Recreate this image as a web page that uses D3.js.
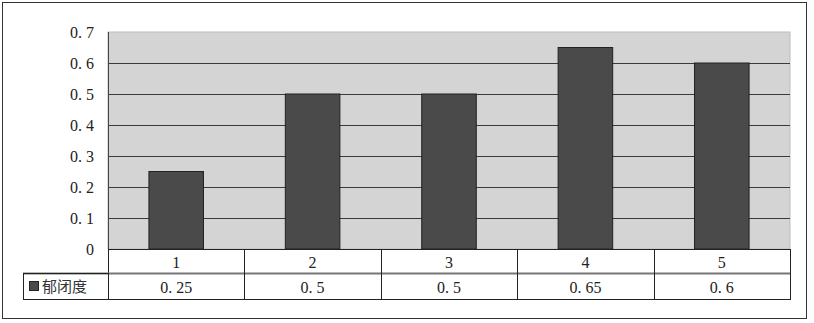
<!DOCTYPE html>
<html>
<head>
<meta charset="utf-8">
<script src="https://cdn.jsdelivr.net/npm/d3@7"></script>
<style>
  body { margin: 0; background: #fff; }
</style>
</head>
<body>
<div id="chart"></div>
<script>
// data
var categories = ["1", "2", "3", "4", "5"];
var values = [0.25, 0.5, 0.5, 0.65, 0.6];
var valueLabels = ["0.25", "0.5", "0.5", "0.65", "0.6"];
var yTicks = [0, 0.1, 0.2, 0.3, 0.4, 0.5, 0.6, 0.7];
var seriesName = "郁闭度";

const W = 814, H = 323;
const plot = { left: 108, right: 790, top: 32, bottom: 249 };
const rowH = [24, 26];
const SERIF = "'Liberation Serif', 'DejaVu Serif', 'Times New Roman', serif";

const svg = d3.select("#chart")
    .append("svg")
    .attr("width", W)
    .attr("height", H);

// numbers drawn like the original: wider gap after the decimal point
function numText(sel, s) {
    const parts = s.split(".");
    sel.text(null);
    if (parts.length === 1) { sel.text(s); return; }
    sel.append("tspan").text(parts[0] + ".");
    sel.append("tspan").attr("dx", 4).text(parts[1]);
}

// outer frame
svg.append("rect")
    .attr("x", 2.5).attr("y", 2.5)
    .attr("width", 804).attr("height", 316)
    .attr("fill", "#fff")
    .attr("stroke", "#333")
    .attr("stroke-width", 1);

const x = d3.scaleBand()
    .domain(categories)
    .range([plot.left, plot.right])
    .paddingInner(0)
    .paddingOuter(0);
const y = d3.scaleLinear()
    .domain([0, 0.7])
    .range([plot.bottom, plot.top]);

// plot background
svg.append("rect")
    .attr("x", plot.left).attr("y", plot.top)
    .attr("width", plot.right - plot.left)
    .attr("height", plot.bottom - plot.top)
    .attr("fill", "#d4d4d4")
    .attr("stroke", "#bdbdbd");

// gridlines
svg.append("g")
    .selectAll("line")
    .data(yTicks.filter(d => d > 0 && d < 0.7))
    .join("line")
    .attr("x1", plot.left).attr("x2", plot.right)
    .attr("y1", d => Math.round(y(d)) + 0.5)
    .attr("y2", d => Math.round(y(d)) + 0.5)
    .attr("stroke", "#3a3a3a");

// left axis line
svg.append("line")
    .attr("x1", plot.left + 0.5).attr("x2", plot.left + 0.5)
    .attr("y1", plot.top).attr("y2", plot.bottom)
    .attr("stroke", "#444");

// bars
const bw = x.bandwidth() * 0.4;
svg.append("g")
    .selectAll("rect")
    .data(values)
    .join("rect")
    .attr("x", (d, i) => x(categories[i]) + (x.bandwidth() - bw) / 2)
    .attr("y", d => y(d))
    .attr("width", bw)
    .attr("height", d => y(0) - y(d))
    .attr("fill", "#4a4a4a")
    .attr("stroke", "#222")
    .attr("stroke-width", 1);

// y axis labels
svg.append("g")
    .selectAll("text")
    .data(yTicks)
    .join("text")
    .attr("x", 94)
    .attr("y", d => y(d))
    .attr("dy", "0.35em")
    .attr("text-anchor", "end")
    .attr("font-family", SERIF)
    .attr("font-size", 16)
    .attr("fill", "#222")
    .each(function (d) { numText(d3.select(this), d === 0 ? "0" : d3.format(".1f")(d)); });

// data table
const t0 = plot.bottom, t1 = t0 + rowH[0], t2 = t1 + rowH[1];
const tbl = svg.append("g").attr("stroke-width", 1);

tbl.append("rect")
    .attr("x", plot.left + 0.5).attr("y", t0 + 0.5)
    .attr("width", plot.right - plot.left).attr("height", t2 - t0)
    .attr("fill", "#fff").attr("stroke", "#222");
tbl.append("line")
    .attr("x1", 23).attr("x2", plot.right)
    .attr("y1", t1 + 0.5).attr("y2", t1 + 0.5)
    .attr("stroke", "#777").attr("stroke-width", 2);
tbl.append("rect")
    .attr("x", 23.5).attr("y", t1 + 0.5)
    .attr("width", plot.left - 23).attr("height", t2 - t1)
    .attr("fill", "none").attr("stroke", "#222");
tbl.selectAll(".div")
    .data(categories.slice(1))
    .join("line")
    .attr("x1", d => Math.round(x(d)) + 0.5)
    .attr("x2", d => Math.round(x(d)) + 0.5)
    .attr("y1", t0).attr("y2", t2)
    .attr("stroke", "#222");

// category row
svg.append("g")
    .selectAll("text")
    .data(categories)
    .join("text")
    .attr("x", d => x(d) + x.bandwidth() / 2)
    .attr("y", (t0 + t1) / 2 + 1)
    .attr("dy", "0.35em")
    .attr("text-anchor", "middle")
    .attr("font-family", SERIF)
    .attr("font-size", 16)
    .attr("fill", "#222")
    .text(d => d);

// value row
svg.append("g")
    .selectAll("text")
    .data(valueLabels)
    .join("text")
    .attr("x", (d, i) => x(categories[i]) + x.bandwidth() / 2)
    .attr("y", (t1 + t2) / 2 + 1)
    .attr("dy", "0.35em")
    .attr("text-anchor", "middle")
    .attr("font-family", SERIF)
    .attr("font-size", 16)
    .attr("fill", "#222")
    .each(function (d) { numText(d3.select(this), d); });

// legend key
svg.append("rect")
    .attr("x", 29.5).attr("y", t1 + 8.5)
    .attr("width", 9).attr("height", 9)
    .attr("fill", "#4a4a4a").attr("stroke", "#222");
svg.append("text")
    .attr("x", 42)
    .attr("y", (t1 + t2) / 2 + 1)
    .attr("dy", "0.35em")
    .attr("font-family", "'Noto Sans CJK SC', sans-serif")
    .attr("font-size", 15)
    .attr("fill", "#333")
    .text(seriesName);
</script>
</body>
</html>
